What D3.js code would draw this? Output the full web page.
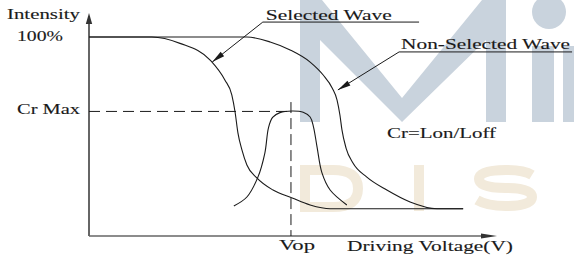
<!DOCTYPE html>
<html><head><meta charset="utf-8">
<script src="https://cdn.jsdelivr.net/npm/d3@7"></script>
<style>html,body{margin:0;padding:0;background:#fff;}svg{display:block;}</style>
</head><body>
<svg id="c" width="574" height="259"></svg>
<script>
// ---- data (x: driving voltage, arbitrary 0-100; y: intensity %) ----
const selectedWave = [[0,100],[15.4,100],[22.3,96.8],[29.7,88.4],[33.3,78.4],[35.0,70.9],[35.8,62.3],[36.5,51.8],[37.5,43.2],[38.7,35.7],[41.2,29.1],[45.1,23.1],[49.8,19.1],[54.2,15.6],[59.1,13.7],[91.7,13.7]];
const nonSelectedWave = [[0,100],[38.7,100],[44.4,97.5],[49.3,93.5],[54.2,87.4],[57.4,80.9],[59.6,74.4],[60.8,68.3],[61.5,60.8],[62.0,53.3],[63.0,44.2],[64.7,36.7],[68.1,29.6],[73.0,23.1],[78.7,17.1],[85.3,13.7],[91.7,13.7]];
const contrastRatio = [[35.5,15.1],[38.7,19.6],[41.4,29.6],[43.1,41.7],[44.0,54.5],[45.0,59.6],[46.8,62.0],[49.8,62.8],[52.5,62.2],[54.2,59.8],[55.0,55.0],[55.9,44.7],[57.1,31.7],[59.1,23.1],[63.2,15.6]];
const crMax = 62.6;
const vop = 49.5;
const yTickValues = [100, crMax];
const yTickLabels = ["100%", "Cr Max"];
const xTickValues = [vop];
const xTickLabels = ["Vop"];
const yAxisTitle = "Intensity";
const xAxisTitle = "Driving Voltage(V)";
const formulaText = "Cr=Lon/Loff";
const annotationLabels = ["Selected Wave", "Non-Selected Wave"];
const annotationTips = [[30.2,87.4],[61.0,73.4]];
const annotationElbows = [[42.6,107.5],[76.0,92.5]];
const annotationEnds = [[80.9,107.5],[118.4,92.5]];

const svg = d3.select("#c");
const x = d3.scaleLinear().domain([0,100]).range([89,497]);
const y = d3.scaleLinear().domain([0,100]).range([236,37]);
const font = "Liberation Serif, Times New Roman, serif";
const ink = "#1a1a1a";

// ---- watermark (decorative) ----
const wm = svg.append("g");
const blue = "#c9d3dd", beige = "#f2eadb";
wm.append("path").attr("fill", blue)
  .attr("d","M300,0 H322 L402,98 L482,0 H506 V122 H486 V40 L402,122 L320,40 V122 H300 Z");
wm.append("circle").attr("cx",549).attr("cy",12).attr("r",17).attr("fill",blue);
wm.append("rect").attr("x",532).attr("y",46).attr("width",22).attr("height",76).attr("fill",blue);
wm.append("rect").attr("x",563).attr("y",46).attr("width",14).attr("height",76).attr("fill",blue);
wm.append("path").attr("fill","none").attr("stroke",beige).attr("stroke-width",10)
  .attr("d","M305,170 H333 Q358,170 358,188.5 Q358,207 333,207 H305 Z");
wm.append("rect").attr("x",414).attr("y",165).attr("width",10).attr("height",46).attr("fill",beige);
wm.append("path").attr("fill","none").attr("stroke",beige).attr("stroke-width",10)
  .attr("d","M532,175 Q524,170 506,170 Q479,170 479,179 Q479,188 506,188 Q532,188 532,197 Q532,206 506,206 Q487,206 477,200");

// ---- helpers ----
function arrowHead(tip, from, L, w){
  const dx = tip[0]-from[0], dy = tip[1]-from[1];
  const d = Math.hypot(dx,dy), ux = dx/d, uy = dy/d;
  const bx = tip[0]-ux*L, by = tip[1]-uy*L;
  return `M${tip[0]},${tip[1]} L${bx-uy*w},${by+ux*w} L${bx+uy*w},${by-ux*w} Z`;
}
function label(t, xs, ys, len){
  svg.append("text").attr("x",xs).attr("y",ys).text(t)
    .attr("font-family",font).attr("font-size",14.5).attr("fill",ink)
    .attr("stroke",ink).attr("stroke-width",0.12)
    .attr("textLength",len).attr("lengthAdjust","spacingAndGlyphs");
}

// ---- axes ----
svg.append("line").attr("x1",x(0)).attr("y1",y(0)).attr("x2",x(0)).attr("y2",y(110))
  .attr("stroke","#333").attr("stroke-width",1.5);
svg.append("path").attr("d",arrowHead([x(0),y(112)],[x(0),y(0)],11,3.2)).attr("fill","#333");
svg.append("line").attr("x1",x(0)).attr("y1",y(0)).attr("x2",x(97)).attr("y2",y(0))
  .attr("stroke","#666").attr("stroke-width",1.6);
svg.append("path").attr("d",arrowHead([x(100),y(0)],[x(0),y(0)],16,2.4)).attr("fill","#333");

// ---- reference dashed lines ----
svg.append("line").attr("x1",x(0)).attr("x2",x(vop)).attr("y1",y(crMax)).attr("y2",y(crMax))
  .attr("stroke",ink).attr("stroke-width",1).attr("stroke-dasharray","11,6");
svg.append("line").attr("x1",x(vop)).attr("x2",x(vop)).attr("y1",y(67.3)).attr("y2",y(0))
  .attr("stroke",ink).attr("stroke-width",1).attr("stroke-dasharray","11,5");

// ---- curves ----
const line = d3.line().x(d=>x(d[0])).y(d=>y(d[1])).curve(d3.curveMonotoneX);
const smooth = d3.line().x(d=>x(d[0])).y(d=>y(d[1])).curve(d3.curveCatmullRom.alpha(0.5));
[selectedWave, nonSelectedWave].forEach(s=>{
  svg.append("path").datum(s).attr("d",line).attr("fill","none")
    .attr("stroke",ink).attr("stroke-width",1.1);
});
svg.append("path").datum(contrastRatio).attr("d",smooth).attr("fill","none")
  .attr("stroke",ink).attr("stroke-width",1.1);

// ---- annotations ----
annotationLabels.forEach((t,i)=>{
  const tip=[x(annotationTips[i][0]),y(annotationTips[i][1])];
  const el=[x(annotationElbows[i][0]),y(annotationElbows[i][1])];
  const en=[x(annotationEnds[i][0]),y(annotationEnds[i][1])];
  svg.append("path").attr("d",`M${en[0]},${en[1]} L${el[0]},${el[1]} L${tip[0]},${tip[1]}`)
    .attr("fill","none").attr("stroke",ink).attr("stroke-width",1);
  svg.append("path").attr("d",arrowHead(tip,el,13,2.8)).attr("fill",ink);
});
label(annotationLabels[0], x(annotationElbows[0][0])+3, y(annotationElbows[0][1])-2, 126);
label(annotationLabels[1], x(annotationElbows[1][0])+2, y(annotationElbows[1][1])-3.3, 169);

// ---- tick labels & titles ----
label(yAxisTitle, 7, 19, 73);
label(yTickLabels[0], 17, y(yTickValues[0])+4, 46);
label(yTickLabels[1], 17, y(yTickValues[1])+3, 63);
label(xTickLabels[0], x(xTickValues[0])-12, 250, 36);
label(xAxisTitle, 347, 251, 166);
label(formulaText, 387, 138, 109);
</script>
</body></html>
